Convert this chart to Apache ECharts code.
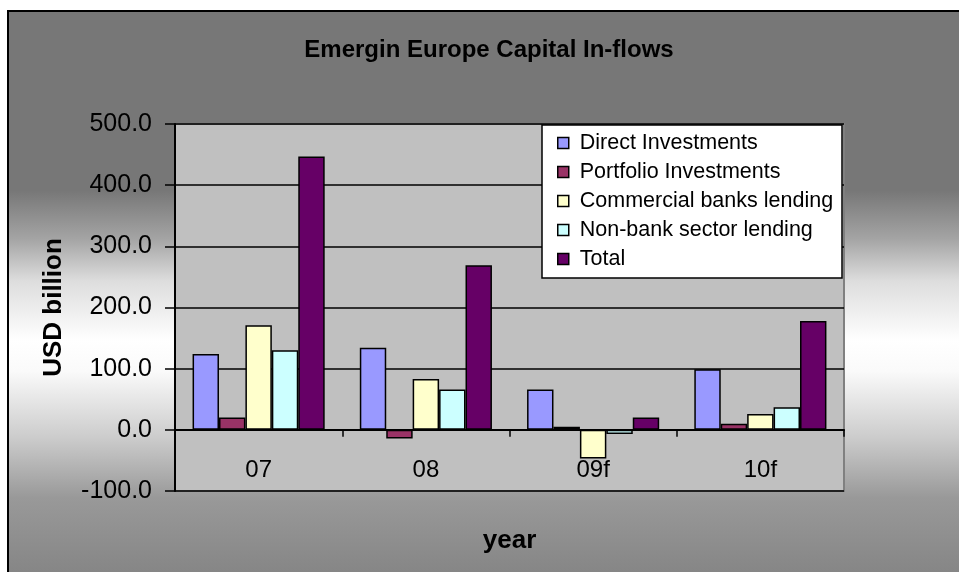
<!DOCTYPE html>
<html>
<head>
<meta charset="utf-8">
<script src="https://cdn.jsdelivr.net/npm/echarts@6/dist/echarts.min.js"></script>
<style>
  html, body { margin: 0; padding: 0; background: #ffffff; }
  #chart { width: 959px; height: 572px; }
</style>
</head>
<body>
<div id="chart"></div>
<script>
// Capital in-flows into emerging Europe, USD billion
const categories = ['07', '08', '09f', '10f'];
const directInvestments = [124, 134, 66, 99];
const portfolioInvestments = [20, -14, 5, 10];
const commercialBanksLending = [171, 83, -47, 26];
const nonBankSectorLending = [130, 66, -7, 37];
const totalInflows = [447, 269, 20, 178];
const yTicks = { min: -100, max: 500, step: 100 };

const FONT = '"Liberation Sans", Arial, sans-serif';

const seriesDefs = [
  { name: 'Direct Investments', data: directInvestments, color: '#9999ff' },
  { name: 'Portfolio Investments', data: portfolioInvestments, color: '#993366' },
  { name: 'Commercial banks lending', data: commercialBanksLending, color: '#ffffcc' },
  { name: 'Non-bank sector lending', data: nonBankSectorLending, color: '#ccffff' },
  { name: 'Total', data: totalInflows, color: '#660066' }
];

const chart = echarts.init(document.getElementById('chart'), null, { renderer: 'canvas' });

const option = {
  backgroundColor: '#ffffff',
  animation: false,
  textStyle: { fontFamily: FONT },
  graphic: [
    {
      // chart area: silver banded gradient with a black frame
      type: 'rect',
      z: -10,
      shape: { x: 8, y: 11, width: 1000, height: 600 },
      style: {
        stroke: '#000000',
        lineWidth: 2,
        fill: new echarts.graphic.LinearGradient(0, 0, 0, 1, [
          { offset: 0.0, color: '#777777' },
          { offset: 0.30, color: '#777777' },
          { offset: 0.38, color: '#a4a4a4' },
          { offset: 0.45, color: '#dddddd' },
          { offset: 0.55, color: '#ffffff' },
          { offset: 0.60, color: '#fafafa' },
          { offset: 0.71, color: '#cccccc' },
          { offset: 0.81, color: '#999999' },
          { offset: 0.94, color: '#858585' },
          { offset: 1.0, color: '#808080' }
        ])
      }
    },
    {
      // legend frame
      type: 'rect',
      z: 3,
      shape: { x: 542, y: 125, width: 300, height: 153 },
      style: { fill: '#ffffff', stroke: '#000000', lineWidth: 1.5 }
    }
  ],
  title: {
    text: 'Emergin Europe Capital In-flows',
    left: 484,
    top: 32,
    textAlign: 'center',
    textStyle: {
      fontFamily: FONT,
      fontSize: 24,
      fontWeight: 'bold',
      color: '#000000',
      lineHeight: 26
    }
  },
  legend: {
    orient: 'vertical',
    left: 557,
    top: 132,
    padding: 0,
    z: 4,
    itemWidth: 11,
    itemHeight: 11,
    itemGap: 7,
    icon: 'rect',
    itemStyle: { borderColor: '#000000', borderWidth: 1.5 },
    textStyle: {
      fontFamily: FONT,
      fontSize: 21.5,
      color: '#000000',
      lineHeight: 20,
      padding: [0, 0, 0, 6]
    },
    data: seriesDefs.map(s => s.name)
  },
  grid: {
    left: 175,
    top: 124,
    width: 669,
    height: 367,
    show: true,
    backgroundColor: '#c0c0c0',
    borderColor: '#808080',
    borderWidth: 2,
    containLabel: false,
    outerBoundsMode: 'none'
  },
  xAxis: {
    type: 'category',
    data: categories,
    name: 'year',
    nameLocation: 'middle',
    nameGap: 37,
    nameTextStyle: { fontFamily: FONT, fontSize: 26, fontWeight: 'bold', color: '#000000', lineHeight: 26 },
    axisLine: { onZero: true, lineStyle: { color: '#000000', width: 2 } },
    axisTick: { show: true, inside: false, length: 7, lineStyle: { color: '#000000', width: 1.5 } },
    axisLabel: { margin: -33, fontFamily: FONT, fontSize: 24, color: '#000000' },
    splitLine: { show: false }
  },
  yAxis: {
    type: 'value',
    min: yTicks.min,
    max: yTicks.max,
    interval: yTicks.step,
    name: 'USD billion',
    nameLocation: 'middle',
    nameRotate: 90,
    nameGap: 108,
    nameTextStyle: { fontFamily: FONT, fontSize: 26, fontWeight: 'bold', color: '#000000', lineHeight: 26 },
    axisLine: { show: true, lineStyle: { color: '#000000', width: 2 } },
    axisTick: { show: true, inside: false, length: 10, lineStyle: { color: '#000000', width: 1.5 } },
    axisLabel: {
      margin: 23,
      fontFamily: FONT,
      fontSize: 25,
      color: '#000000',
      formatter: v => v.toFixed(1)
    },
    splitLine: { show: true, lineStyle: { color: '#000000', width: 1.5 } }
  },
  series: seriesDefs.map(s => ({
    name: s.name,
    type: 'bar',
    data: s.data,
    barGap: '0%',
    barCategoryGap: '21%',
    itemStyle: { color: s.color, borderColor: '#000000', borderWidth: 1.5 },
    emphasis: { disabled: true }
  }))
};

chart.setOption(option);
</script>
</body>
</html>
